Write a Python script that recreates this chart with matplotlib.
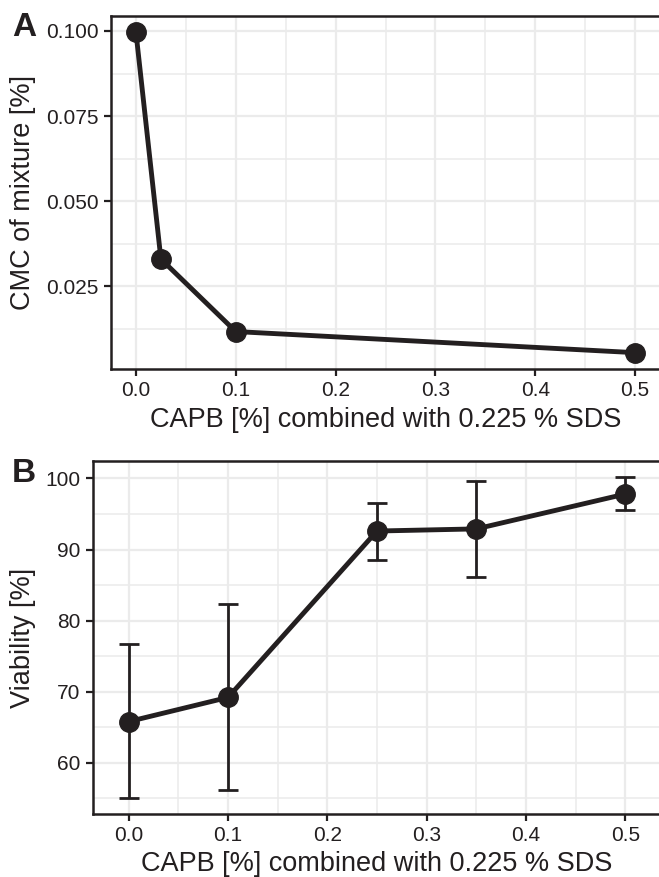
import matplotlib
matplotlib.use('Agg')
import matplotlib.pyplot as plt
from matplotlib.ticker import MultipleLocator

plt.rcParams['font.family'] = ['Liberation Sans', 'DejaVu Sans']

# panel A: CMC of the mixture
capb_a = [0.0, 0.025, 0.1, 0.5]
cmc = [0.0996, 0.0330, 0.0117, 0.0055]

# panel B: viability with error bars
capb_b = [0.0, 0.1, 0.25, 0.35, 0.5]
viab = [65.8, 69.2, 92.6, 92.9, 97.8]
viab_lo = [55.1, 56.2, 88.5, 86.1, 95.5]
viab_hi = [76.7, 82.4, 96.6, 99.7, 100.2]

xlab = 'CAPB [%] combined with 0.225 % SDS'
INK = '#231f20'
GRID = '#ebebeb'
W, H = 659, 877

fig = plt.figure(figsize=(W / 100, H / 100), dpi=100)
axA = fig.add_axes([111 / W, 1 - 369 / H, 549 / W, 353 / H])
axB = fig.add_axes([93 / W, 1 - 814 / H, 568 / W, 353 / H])


def style(ax):
    ax.set_axisbelow(True)
    ax.grid(True, which='major', color=GRID, lw=1.6)
    ax.grid(True, which='minor', color=GRID, lw=1.1)
    for s in ax.spines.values():
        s.set_color(INK)
        s.set_linewidth(1.8)
    ax.tick_params(which='major', direction='out', length=5, width=1.6,
                   color=INK, labelcolor=INK, labelsize=15)
    ax.tick_params(axis='x', pad=3.5)
    ax.tick_params(axis='y', pad=4)
    ax.tick_params(which='minor', length=0)


# A
axA.plot(capb_a, cmc, color=INK, lw=3.5, marker='o', ms=14, zorder=3)
axA.set_xlim(-0.025, 0.525)
axA.set_ylim(0.0007, 0.1044)
axA.set_xticks([0.0, 0.1, 0.2, 0.3, 0.4, 0.5])
axA.set_xticklabels(['0.0', '0.1', '0.2', '0.3', '0.4', '0.5'])
axA.xaxis.set_minor_locator(MultipleLocator(0.05))
axA.set_yticks([0.025, 0.05, 0.075, 0.1])
axA.set_yticklabels(['0.025', '0.050', '0.075', '0.100'])
axA.yaxis.set_minor_locator(MultipleLocator(0.0125))
style(axA)
axA.set_xlabel(xlab, fontsize=19.5, color=INK)
axA.xaxis.set_label_coords(0.5, (369 - 420) / 353)
axA.xaxis.label.set_va('center')
axA.set_ylabel('CMC of mixture [%]', fontsize=19.5, color=INK)
axA.yaxis.set_label_coords((23 - 111) / 549, 0.5)
axA.yaxis.label.set_va('center')

# B
err = [[v - lo for v, lo in zip(viab, viab_lo)], [hi - v for v, hi in zip(viab, viab_hi)]]
axB.errorbar(capb_b, viab, yerr=err, fmt='none', ecolor=INK, elinewidth=2.0,
             capsize=0, zorder=2)
axB.hlines(viab_lo + viab_hi, [x - 0.01 for x in capb_b * 2], [x + 0.01 for x in capb_b * 2],
           color=INK, lw=2.0, zorder=2)
axB.plot(capb_b, viab, color=INK, lw=3.5, marker='o', ms=14, zorder=3)
axB.set_xlim(-0.036, 0.536)
axB.set_ylim(52.8, 102.45)
axB.set_xticks([0.0, 0.1, 0.2, 0.3, 0.4, 0.5])
axB.set_xticklabels(['0.0', '0.1', '0.2', '0.3', '0.4', '0.5'])
axB.xaxis.set_minor_locator(MultipleLocator(0.05))
axB.yaxis.set_major_locator(MultipleLocator(10))
axB.yaxis.set_minor_locator(MultipleLocator(5))
style(axB)
axB.set_xlabel(xlab, fontsize=19.5, color=INK)
axB.xaxis.set_label_coords(0.5, (814 - 864) / 353)
axB.xaxis.label.set_va('center')
axB.set_ylabel('Viability [%]', fontsize=19.5, color=INK)
axB.yaxis.set_label_coords((23 - 93) / 568, 0.5)
axB.yaxis.label.set_va('center')

fig.text(12 / W, 1 - 28 / H, 'A', fontsize=24, fontweight='bold', color=INK, va='center')
fig.text(12 / W, 1 - 473 / H, 'B', fontsize=24, fontweight='bold', color=INK, va='center')

fig.savefig('out.png', dpi=100)
